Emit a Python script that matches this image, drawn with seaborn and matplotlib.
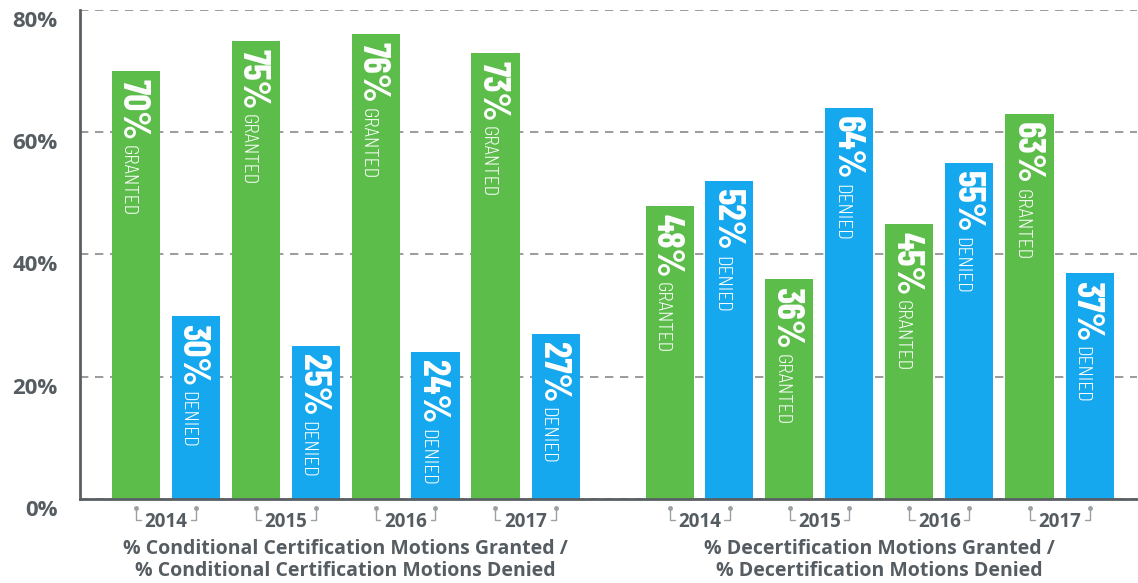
import matplotlib
matplotlib.use("Agg")
import matplotlib.pyplot as plt
import matplotlib.transforms as mtransforms
from matplotlib import font_manager
from matplotlib.font_manager import FontProperties
import numpy as np
import pandas as pd
import seaborn as sns

# ---------------- data ----------------
years = ["2014", "2015", "2016", "2017"]
cond_granted = [70, 75, 76, 73]
cond_denied = [30, 25, 24, 27]
decert_granted = [48, 36, 45, 63]
decert_denied = [52, 64, 55, 37]
group_titles = [
    "% Conditional Certification Motions Granted /\n% Conditional Certification Motions Denied",
    "% Decertification Motions Granted /\n% Decertification Motions Denied",
]
status_words = {"granted": "GRANTED", "denied": "DENIED"}
y_ticks = [0, 20, 40, 60, 80]
y_tick_labels = ["0%", "20%", "40%", "60%", "80%"]

GREEN = "#5cbd4b"
BLUE = "#15a8ee"
GRAY_TXT = "#555d62"

# ---------------- fonts ----------------
sns.set_theme(style="white")
avail = {f.name for f in font_manager.fontManager.ttflist}


def pick(*names):
    for n in names:
        if n in avail:
            return n
    return "DejaVu Sans"


main_font = pick("Open Sans", "DejaVu Sans")
big_font = pick("Barlow Condensed", "Roboto Condensed", "Liberation Sans Narrow")
small_font = pick("Barlow Semi Condensed", "Barlow Condensed", "Roboto Condensed")
plt.rcParams["font.family"] = [main_font, "DejaVu Sans"]

big_fp = FontProperties(family=[big_font, "DejaVu Sans"], weight=700, size=27)
small_fp = FontProperties(family=[small_font, "DejaVu Sans"], weight=300, size=14)
BASE = -13

# ---------------- build table ----------------
rows = []
groups = [(cond_granted, cond_denied), (decert_granted, decert_denied)]
group_offset = [0.0, 8.9]
for g, (gr, de) in enumerate(groups):
    for i, yr in enumerate(years):
        base = group_offset[g] + 2 * i
        rows.append({"pos": base, "value": gr[i], "status": "granted", "year": yr, "group": g})
        rows.append({"pos": base + 1, "value": de[i], "status": "denied", "year": yr, "group": g})
df = pd.DataFrame(rows)

fig = plt.figure(figsize=(11.38, 5.83), dpi=100)
ax = fig.add_axes([80 / 1138, (583 - 499) / 583, 1057 / 1138, (499 - 10) / 583])

sns.barplot(data=df, x="pos", y="value", hue="status", native_scale=True,
            palette={"granted": GREEN, "denied": BLUE}, dodge=False,
            width=0.8, legend=False, ax=ax, saturation=1, linewidth=0)

ax.set_xlim(-0.925, -0.925 + 1057 / 60)
ax.set_ylim(0, 80)
ax.set_xlabel("")
ax.set_ylabel("")
ax.set_xticks([])
ax.set_yticks(y_ticks)
ax.set_yticklabels(y_tick_labels, fontsize=16, fontweight="bold", color=GRAY_TXT)
ax.tick_params(axis="y", length=0, pad=16)
off = mtransforms.ScaledTranslation(0, -9 / 100, fig.dpi_scale_trans)
for lab in ax.get_yticklabels():
    lab.set_transform(lab.get_transform() + off)

for s in ["top", "right"]:
    ax.spines[s].set_visible(False)
for s in ["left", "bottom"]:
    ax.spines[s].set_color("#5a5f63")
    ax.spines[s].set_linewidth(2)
ax.set_axisbelow(True)
ax.yaxis.grid(True, color="#8a8a8a", linestyle=(0, (5, 4)), linewidth=1.2)
ax.xaxis.grid(False)

# ---------------- bar labels ----------------
big_texts = []
for _, r in df.iterrows():
    t = ax.annotate(f"{r['value']}%", xy=(r["pos"], r["value"]), xycoords="data",
                    xytext=(BASE, -8), textcoords="offset pixels",
                    rotation=-90, rotation_mode="anchor", ha="left", va="baseline",
                    fontproperties=big_fp, color="white")
    big_texts.append((t, r))

fig.canvas.draw()
renderer = fig.canvas.get_renderer()
for t, r in big_texts:
    bb = t.get_window_extent(renderer)
    top_px = ax.transData.transform((r["pos"], r["value"]))[1]
    length = top_px - bb.y0
    ax.annotate(status_words[r["status"]], xy=(r["pos"], r["value"]), xycoords="data",
                xytext=(BASE, -(length + 5)), textcoords="offset pixels",
                rotation=-90, rotation_mode="anchor", ha="left", va="baseline",
                fontproperties=small_fp, color="white")

# ---------------- year labels with brackets ----------------
bt = mtransforms.blended_transform_factory(ax.transData, ax.transAxes)
px_x = 1 / 60.0
for g in range(2):
    for i, yr in enumerate(years):
        x0 = group_offset[g] + 2 * i
        x1 = x0 + 1
        xc = (x0 + x1) / 2
        ax.annotate(yr, xy=(xc, 0), xycoords=bt, xytext=(0, -23), textcoords="offset pixels",
                    ha="center", va="center", fontsize=13.5, fontweight="bold", color=GRAY_TXT,
                    annotation_clip=False)
        y_top = -9 / 489
        y_bot = -21 / 489
        ax.plot([x0, x0, x0 + 5 * px_x], [y_top, y_bot, y_bot], transform=bt,
                color="#9aa0a4", lw=1, clip_on=False)
        ax.plot([x1, x1, x1 - 5 * px_x], [y_top, y_bot, y_bot], transform=bt,
                color="#9aa0a4", lw=1, clip_on=False)
        ax.plot([x0, x1], [y_top, y_top], transform=bt, linestyle="none",
                marker="o", markersize=2.5, color="#9aa0a4", clip_on=False)
    gc = group_offset[g] + 3.5
    ax.annotate(group_titles[g], xy=(gc, 0), xycoords=bt, xytext=(0, -61), textcoords="offset pixels",
                ha="center", va="center", fontsize=14, fontweight="bold", color=GRAY_TXT,
                linespacing=1.15, annotation_clip=False)

fig.savefig("out.png", dpi=100)
